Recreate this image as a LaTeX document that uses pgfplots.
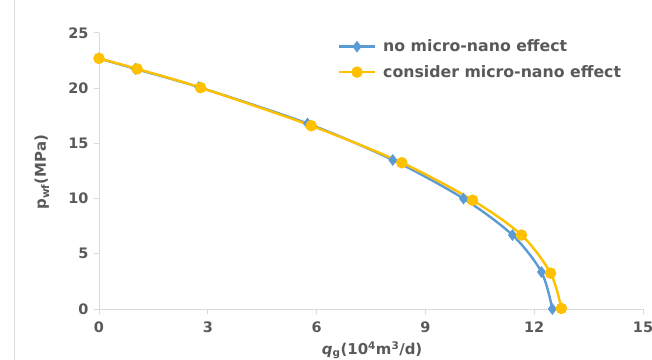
\documentclass[border=0pt]{standalone}
\usepackage{fontspec}
\setmainfont{DejaVu Sans}
\usepackage{pgfplots}
\pgfplotsset{compat=1.18}

\definecolor{axisgray}{HTML}{D9D9D9}
\definecolor{textgray}{HTML}{595959}
\definecolor{seriesblue}{HTML}{5B9BD5}
\definecolor{seriesyellow}{HTML}{FFC000}

\begin{document}
\begin{tikzpicture}
% chart area
\clip (0,0) rectangle (652bp,360bp);
\draw[axisgray, line width=0.8bp] (14bp,0) -- (14bp,360bp);
\begin{axis}[
  at={(99bp,51bp)}, anchor=south west,
  scale only axis, width=544bp, height=276bp,
  xmin=0, xmax=15, ymin=0, ymax=25,
  xtick={0,3,6,9,12,15}, ytick={0,5,10,15,20,25},
  axis x line*=bottom, axis y line*=left,
  axis line style={-, draw=axisgray, line width=1bp},
  tick align=outside, major tick length=5bp,
  tick style={axisgray, line width=1bp},
  /pgf/number format/assume math mode=true,
  tick label style={font=\bfseries\fontsize{14.5}{15}\selectfont, text=textgray},
  xticklabel style={yshift=-4bp},
  yticklabel style={xshift=-2bp},
  xlabel={\textit{q}\textsubscript{g}(10\textsuperscript{4}m\textsuperscript{3}/d)},
  ylabel={p\textsubscript{wf}(MPa)},
  label style={font=\bfseries\fontsize{15}{15}\selectfont, text=textgray},
  xlabel style={at={(axis description cs:0.502,-0.149)}, anchor=center},
  ylabel style={at={(axis description cs:-0.105,0.495)}, anchor=center},
  legend cell align=left,
  legend style={at={(axis description cs:0.435,0.99)}, anchor=north west,
    draw=none, fill=none, font=\bfseries\fontsize{15.8}{16}\selectfont,
    text=textgray, row sep=8bp, inner sep=2bp,
    /tikz/every odd column/.append style={column sep=5bp}},
  legend image code/.code={%
    \draw[mark repeat=2, mark phase=2] plot coordinates {(0bp,0bp) (18bp,0bp) (36bp,0bp)};},
]
\addplot[seriesblue, line width=2.4bp, smooth, tension=0.5,
  mark=diamond*, mark size=4bp, mark options={fill=seriesblue, draw=seriesblue}]
  coordinates {
  (0,22.7) (1.0,21.75) (2.75,20.1) (5.75,16.8) (8.1,13.5)
  (10.05,10.0) (11.4,6.7) (12.2,3.35) (12.5,0)
};
\addlegendentry{no micro-nano effect}
\addplot[seriesyellow, line width=2.4bp, smooth, tension=0.5,
  mark=*, mark size=4.5bp, mark options={fill=seriesyellow, draw=seriesyellow}]
  coordinates {
  (0,22.7) (1.05,21.75) (2.8,20.05) (5.85,16.6) (8.35,13.25)
  (10.3,9.85) (11.65,6.7) (12.45,3.25) (12.75,0.05)
};
\addlegendentry{consider micro-nano effect}
\end{axis}
\end{tikzpicture}
\end{document}
